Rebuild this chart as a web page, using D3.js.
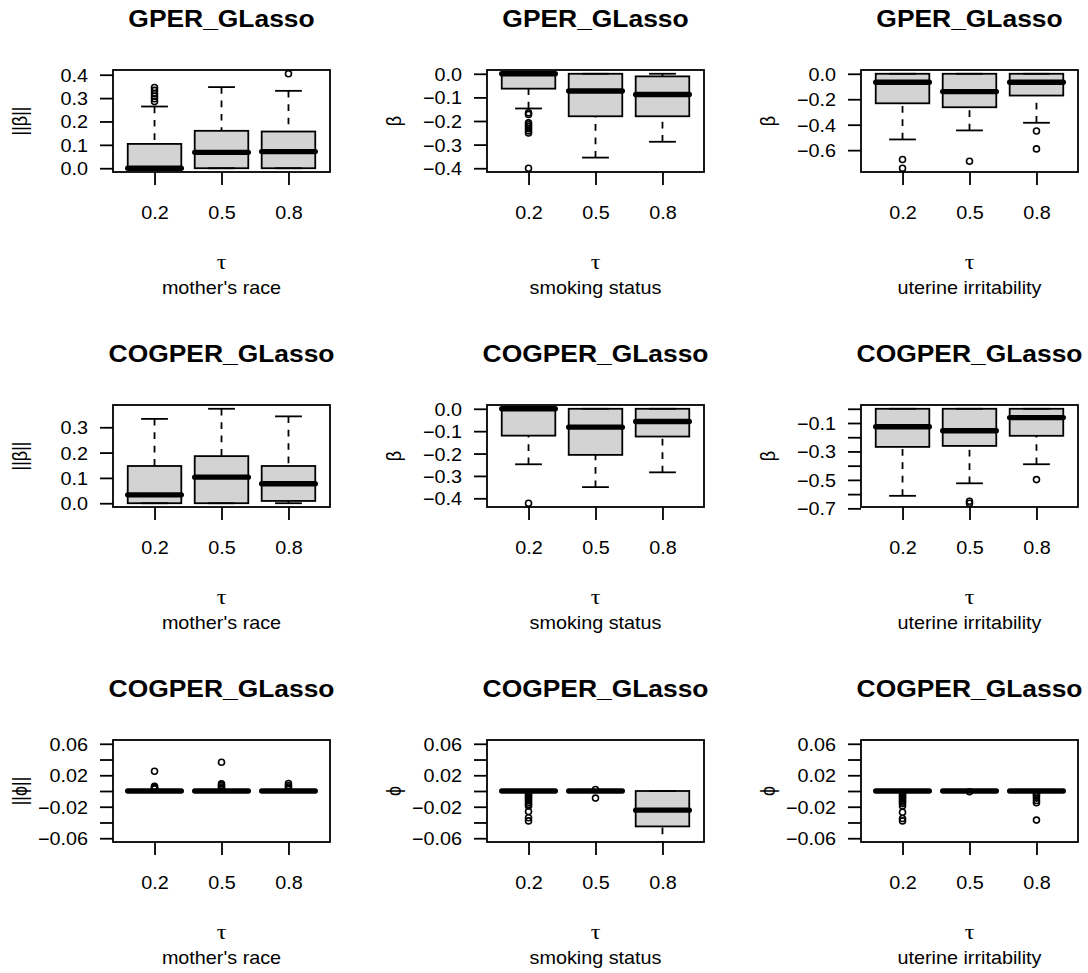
<!DOCTYPE html>
<html>
<head>
<meta charset="utf-8">
<script src="https://cdn.jsdelivr.net/npm/d3@7"></script>
<style>
  body { margin: 0; background: #fff; }
  svg { display: block; }
  text { font-family: "Liberation Sans", Arial, Helvetica, sans-serif; fill: #000; }
</style>
</head>
<body>
<svg id="chart" width="1088" height="973"></svg>
<script>
// ---- data ----------------------------------------------------------------
const tauPositions = [1, 2, 3];
const tauTickLabels = ["0.2", "0.5", "0.8"];
const rowTitles = ["GPER_GLasso", "COGPER_GLasso", "COGPER_GLasso"];
const covariateNames = ["mother's race", "smoking status", "uterine irritability"];
const yAxisTitles = [["||β||", "β", "β"], ["||β||", "β", "β"], ["||ϕ||", "ϕ", "ϕ"]];

// summaries per τ: [lower whisker, Q1, median, Q3, upper whisker]
const gperRaceStats  = [[0, 0, 0, 0.104, 0.264], [0, 0, 0.068, 0.160, 0.347], [0, 0, 0.071, 0.157, 0.331]];
const gperRaceOut    = [[0.285, 0.297, 0.308, 0.319, 0.333, 0.345], [], [0.404]];
const gperSmokeStats = [[-0.147, -0.063, 0, 0, 0], [-0.355, -0.180, -0.073, 0, 0], [-0.288, -0.180, -0.088, -0.011, 0]];
const gperSmokeOut   = [[-0.165, -0.172, -0.208, -0.216, -0.224, -0.233, -0.242, -0.251, -0.400], [], []];
const gperUterStats  = [[-0.516, -0.232, -0.066, 0, 0], [-0.445, -0.263, -0.140, 0, 0], [-0.385, -0.171, -0.066, 0, 0]];
const gperUterOut    = [[-0.674, -0.742], [-0.687], [-0.450, -0.590]];

const cogRaceStats   = [[0, 0, 0.033, 0.147, 0.333], [0, 0, 0.103, 0.186, 0.373], [0, 0.009, 0.077, 0.147, 0.343]];
const cogRaceOut     = [[], [], []];
const cogSmokeStats  = [[-0.248, -0.120, 0, 0, 0], [-0.350, -0.206, -0.082, 0, 0], [-0.284, -0.124, -0.057, 0, 0]];
const cogSmokeOut    = [[-0.422], [], []];
const cogUterStats   = [[-0.612, -0.268, -0.126, 0, 0], [-0.524, -0.261, -0.154, 0, 0], [-0.390, -0.190, -0.062, 0, 0]];
const cogUterOut     = [[], [-0.650, -0.664], [-0.498]];

const phiRaceStats   = [[0, 0, 0, 0, 0], [0, 0, 0, 0, 0], [0, 0, 0, 0, 0]];
const phiRaceOut     = [[0.0025, 0.004, 0.005, 0.006, 0.025], [0.003, 0.005, 0.007, 0.009, 0.0365], [0.003, 0.005, 0.007, 0.0095]];
const phiSmokeStats  = [[0, 0, 0, 0, 0], [0, 0, 0, 0, 0], [-0.072, -0.045, -0.0243, 0, 0]];
const phiSmokeOut    = [[-0.002, -0.004, -0.006, -0.008, -0.010, -0.012, -0.0145, -0.017, -0.019, -0.026, -0.034, -0.038], [0.002, -0.009], []];
const phiUterStats   = [[0, 0, 0, 0, 0], [0, 0, 0, 0, 0], [0, 0, 0, 0, 0]];
const phiUterOut     = [[-0.002, -0.004, -0.006, -0.008, -0.010, -0.012, -0.014, -0.016, -0.019, -0.027, -0.035, -0.038], [-0.001], [-0.002, -0.004, -0.006, -0.009, -0.012, -0.015, -0.037]];

// y-axis ticks, and the subset of them that carry a label
const ticksGperRace  = [0, 0.1, 0.2, 0.3, 0.4];
const ticksGperSmoke = [-0.4, -0.3, -0.2, -0.1, 0];
const ticksGperUter  = [-0.6, -0.4, -0.2, 0];
const ticksCogRace   = [0, 0.1, 0.2, 0.3];
const ticksCogSmoke  = [-0.4, -0.3, -0.2, -0.1, 0];
const ticksCogUter   = [-0.7, -0.6, -0.5, -0.4, -0.3, -0.2, -0.1, 0];
const labelsCogUter  = [-0.7, -0.5, -0.3, -0.1];
const ticksPhi       = [-0.06, -0.04, -0.02, 0, 0.02, 0.04, 0.06];
const labelsPhi      = [-0.06, -0.02, 0.02, 0.06];
const phiLimits      = [-0.06, 0.06];

// ---- layout ----------------------------------------------------------------
const colLeft = [113, 487, 861];
const rowTop = [70, 405, 740];
const plotW = 217, plotH = 102;
const sx = 1.1;              // horizontal text stretch
const lw = 1.8;              // base line width
const fontSize = 18, titleSize = 24, tauSize = 22;

const panels = [
  { r: 0, c: 0, stats: gperRaceStats,  out: gperRaceOut,  ticks: ticksGperRace,  fmt: ".1f" },
  { r: 0, c: 1, stats: gperSmokeStats, out: gperSmokeOut, ticks: ticksGperSmoke, fmt: ".1f" },
  { r: 0, c: 2, stats: gperUterStats,  out: gperUterOut,  ticks: ticksGperUter,  fmt: ".1f" },
  { r: 1, c: 0, stats: cogRaceStats,   out: cogRaceOut,   ticks: ticksCogRace,   fmt: ".1f" },
  { r: 1, c: 1, stats: cogSmokeStats,  out: cogSmokeOut,  ticks: ticksCogSmoke,  fmt: ".1f" },
  { r: 1, c: 2, stats: cogUterStats,   out: cogUterOut,   ticks: ticksCogUter,   labels: labelsCogUter, fmt: ".1f" },
  { r: 2, c: 0, stats: phiRaceStats,   out: phiRaceOut,   ticks: ticksPhi, labels: labelsPhi, lim: phiLimits, fmt: ".2f" },
  { r: 2, c: 1, stats: phiSmokeStats,  out: phiSmokeOut,  ticks: ticksPhi, labels: labelsPhi, lim: phiLimits, fmt: ".2f" },
  { r: 2, c: 2, stats: phiUterStats,   out: phiUterOut,   ticks: ticksPhi, labels: labelsPhi, lim: phiLimits, fmt: ".2f" }
];

const svg = d3.select("#chart");
const defs = svg.append("defs");

panels.forEach((p, k) => {
  const x0 = colLeft[p.c], y0 = rowTop[p.r];
  const g = svg.append("g");

  // x: boxes at 1..3, limits 0.5..3.5 widened by 4%
  const x = d3.scaleLinear().domain([0.38, 3.62]).range([x0, x0 + plotW]);

  // y: data range (or fixed limits) widened by 4% on each side
  let lo, hi;
  if (p.lim) { [lo, hi] = p.lim; }
  else {
    const all = p.stats.flat().concat(p.out.flat());
    [lo, hi] = d3.extent(all);
  }
  const pad = 0.04 * (hi - lo);
  const y = d3.scaleLinear().domain([lo - pad, hi + pad]).range([y0 + plotH, y0]);

  defs.append("clipPath").attr("id", "clip" + k)
    .append("rect").attr("x", x0).attr("y", y0).attr("width", plotW).attr("height", plotH);

  const marks = g.append("g").attr("clip-path", `url(#clip${k})`);

  p.stats.forEach((s, i) => {
    const cx = x(tauPositions[i]);
    const [wLo, q1, med, q3, wHi] = s;
    const bg = marks.append("g");

    // box
    bg.append("rect")
      .attr("x", x(tauPositions[i] - 0.4)).attr("width", x(tauPositions[i] + 0.4) - x(tauPositions[i] - 0.4))
      .attr("y", y(q3)).attr("height", Math.max(0, y(q1) - y(q3)))
      .attr("fill", "#d3d3d3").attr("stroke", "#000").attr("stroke-width", lw);
    // median
    bg.append("line")
      .attr("x1", x(tauPositions[i] - 0.4)).attr("x2", x(tauPositions[i] + 0.4))
      .attr("y1", y(med)).attr("y2", y(med))
      .attr("stroke", "#000").attr("stroke-width", lw * 3).attr("stroke-linecap", "round");
    // whiskers (dashed, drawn from the whisker end toward the box)
    [[wLo, q1], [wHi, q3]].forEach(([a, b]) => {
      if (a === b) return;
      bg.append("line")
        .attr("x1", cx).attr("x2", cx).attr("y1", y(a)).attr("y2", y(b))
        .attr("stroke", "#000").attr("stroke-width", lw).attr("stroke-dasharray", "6.7,6.7");
    });
    // staples
    [wLo, wHi].forEach(v => {
      bg.append("line")
        .attr("x1", x(tauPositions[i] - 0.2)).attr("x2", x(tauPositions[i] + 0.2))
        .attr("y1", y(v)).attr("y2", y(v))
        .attr("stroke", "#000").attr("stroke-width", lw);
    });
    // outliers
    bg.selectAll("circle").data(p.out[i]).join("circle")
      .attr("cx", cx).attr("cy", d => y(d)).attr("r", 3)
      .attr("fill", "none").attr("stroke", "#000").attr("stroke-width", 1.6);
  });

  // frame
  g.append("rect").attr("x", x0).attr("y", y0).attr("width", plotW).attr("height", plotH)
    .attr("fill", "none").attr("stroke", "#000").attr("stroke-width", lw);

  // y axis
  const labelled = p.labels || p.ticks;
  const f = d3.format(p.fmt);
  const ya = g.append("g").attr("transform", `translate(${x0},0)`)
    .call(d3.axisLeft(y).tickValues(p.ticks).tickSize(13).tickSizeOuter(0)
      .tickFormat(d => labelled.some(v => Math.abs(v - d) < 1e-9) ? f(d) : ""));
  ya.select(".domain").remove();
  ya.selectAll(".tick line").attr("stroke-width", lw);
  ya.selectAll(".tick text")
    .attr("x", null).attr("dy", "0.36em")
    .attr("transform", `translate(-25,0) scale(${sx},1)`)
    .attr("font-size", fontSize).attr("font-family", null);

  // x axis
  const xa = g.append("g").attr("transform", `translate(0,${y0 + plotH})`)
    .call(d3.axisBottom(x).tickValues(tauPositions).tickSize(13).tickSizeOuter(0)
      .tickFormat((d, i) => tauTickLabels[i]));
  xa.select(".domain").remove();
  xa.selectAll(".tick line").attr("stroke-width", lw);
  xa.selectAll(".tick text")
    .attr("y", null).attr("dy", null)
    .attr("transform", `translate(0,46.5) scale(${sx},1)`)
    .attr("font-size", fontSize).attr("font-family", null);

  const cxm = x0 + plotW / 2;

  // title
  g.append("text")
    .attr("transform", `translate(${cxm},${y0 - 43}) scale(${sx},1)`)
    .attr("text-anchor", "middle").attr("font-weight", "bold").attr("font-size", titleSize)
    .text(rowTitles[p.r]);

  // τ and covariate name
  g.append("text")
    .attr("transform", `translate(${cxm},${y0 + plotH + 97}) scale(${sx},1)`)
    .attr("text-anchor", "middle").attr("font-size", tauSize)
    .style("font-family", '"Liberation Serif", "DejaVu Serif", serif')
    .text("τ");
  g.append("text")
    .attr("transform", `translate(${cxm},${y0 + plotH + 122}) scale(${sx},1)`)
    .attr("text-anchor", "middle").attr("font-size", fontSize)
    .text(covariateNames[p.c]);

  // y title
  g.append("text")
    .attr("transform", `translate(${x0 - 86},${y0 + plotH / 2}) scale(${sx},1) rotate(-90)`)
    .attr("text-anchor", "middle").attr("font-size", fontSize)
    .text(yAxisTitles[p.r][p.c]);
});
</script>
</body>
</html>
